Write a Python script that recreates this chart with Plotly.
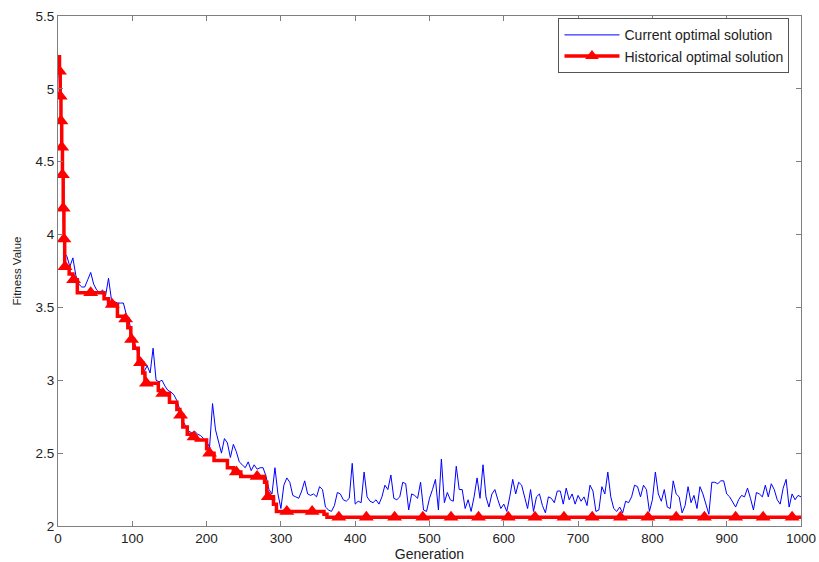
import numpy as np
import plotly.graph_objects as go

# Current optimal solution, sampled every 4 generations (0..1000)
current_step = 4
current_val = [
    5.20, 4.88, 3.88, 3.85, 3.78, 3.84, 3.72, 3.66, 3.64, 3.64,
    3.69, 3.74, 3.66, 3.62, 3.60, 3.62, 3.58, 3.70, 3.55, 3.54,
    3.53, 3.53, 3.53, 3.45, 3.40, 3.30, 3.24, 3.18, 3.10, 3.06,
    3.10, 3.05, 3.22, 3.00, 2.99, 3.00, 2.96, 2.93, 2.92, 2.90,
    2.86, 2.80, 2.72, 2.68, 2.65, 2.64, 2.65, 2.63, 2.62, 2.60,
    2.58, 2.54, 2.84, 2.66, 2.58, 2.50, 2.60, 2.57, 2.47, 2.56,
    2.51, 2.44, 2.42, 2.40, 2.44, 2.38, 2.42, 2.39, 2.40, 2.40,
    2.34, 2.25, 2.22, 2.40, 2.22, 2.12, 2.28, 2.33, 2.30, 2.21,
    2.20, 2.19, 2.24, 2.31, 2.22, 2.21, 2.22, 2.20, 2.27, 2.25,
    2.13, 2.11, 2.10, 2.14, 2.23, 2.22, 2.18, 2.17, 2.19, 2.43,
    2.15, 2.17, 2.16, 2.37, 2.20, 2.17, 2.16, 2.18, 2.15, 2.20,
    2.28, 2.25, 2.35, 2.19, 2.18, 2.20, 2.30, 2.29, 2.11, 2.22,
    2.21, 2.19, 2.30, 2.11, 2.10, 2.19, 2.25, 2.32, 2.11, 2.46,
    2.16, 2.23, 2.18, 2.17, 2.41, 2.25, 2.25, 2.12, 2.18, 2.10,
    2.20, 2.33, 2.19, 2.42, 2.20, 2.13, 2.22, 2.25, 2.18, 2.12,
    2.15, 2.10, 2.20, 2.32, 2.22, 2.30, 2.28, 2.19, 2.12, 2.25,
    2.10, 2.20, 2.22, 2.14, 2.09, 2.20, 2.19, 2.16, 2.24, 2.24,
    2.15, 2.26, 2.18, 2.22, 2.15, 2.21, 2.17, 2.20, 2.14, 2.28,
    2.24, 2.10, 2.11, 2.27, 2.22, 2.37, 2.20, 2.12, 2.10, 2.13,
    2.09, 2.17, 2.16, 2.20, 2.28, 2.27, 2.20, 2.28, 2.25, 2.10,
    2.18, 2.37, 2.22, 2.17, 2.25, 2.13, 2.12, 2.31, 2.22, 2.20,
    2.09, 2.14, 2.27, 2.16, 2.21, 2.12, 2.27, 2.22, 2.15, 2.08,
    2.30, 2.30, 2.29, 2.31, 2.31, 2.22, 2.20, 2.16, 2.13, 2.18,
    2.21, 2.20, 2.26, 2.19, 2.11, 2.23, 2.22, 2.20, 2.28, 2.20,
    2.29, 2.25, 2.18, 2.15, 2.26, 2.32, 2.13, 2.22, 2.18, 2.21,
    2.20,
]
current_gen = np.arange(len(current_val)) * current_step

# Historical optimal solution (step changes: generation, value)
hist_gen = [0, 2, 3, 4, 5, 6, 7, 8, 9, 15, 20, 26, 62, 68, 80, 90, 94, 98,
            102, 108, 114, 117, 135, 140, 150, 160, 164, 168, 174, 180, 186,
            200, 203, 210, 228, 236, 246, 278, 281, 290, 294, 358, 362, 1000]
hist_val = [5.22, 5.12, 4.95, 4.78, 4.60, 4.41, 4.18, 3.97, 3.78, 3.73, 3.69,
            3.60, 3.56, 3.52, 3.44, 3.42, 3.36, 3.28, 3.22, 3.12, 3.05, 2.98,
            2.93, 2.91, 2.85, 2.80, 2.76, 2.68, 2.63, 2.61, 2.59, 2.53, 2.50,
            2.45, 2.40, 2.37, 2.34, 2.30, 2.20, 2.15, 2.10, 2.08, 2.06, 2.06]

# generations where the triangle markers sit
marker_gen = [2, 3, 4, 5, 6, 7, 8, 9.5, 21, 44, 73, 91, 99, 111, 119, 141, 165,
              183, 204, 240, 268, 283, 308, 342, 378, 415, 453, 491, 529, 566,
              606, 642, 681, 719, 757, 794, 832, 870, 912, 949, 988]

x_ticks = [0, 100, 200, 300, 400, 500, 600, 700, 800, 900, 1000]
y_ticks = [2, 2.5, 3, 3.5, 4, 4.5, 5, 5.5]

hg = np.array(hist_gen, dtype=float)
hv = np.array(hist_val, dtype=float)
mg = np.array(marker_gen, dtype=float)
marker_val = hv[np.searchsorted(hg, mg, side="right") - 1]

RED = "#ff0000"
BLUE = "#0000ff"
FONT = "Arial, 'Liberation Sans', Helvetica, sans-serif"

fig = go.Figure()
fig.add_trace(go.Scatter(
    x=current_gen, y=current_val, mode="lines",
    line=dict(color=BLUE, width=1),
    name="Current optimal solution",
))
fig.add_trace(go.Scatter(
    x=hg, y=hv, mode="lines", line=dict(color=RED, width=3.5, shape="hv"),
    showlegend=False, hoverinfo="skip",
))
fig.add_trace(go.Scatter(
    x=mg, y=marker_val, mode="markers",
    marker=dict(symbol="triangle-up", size=13, color=RED,
                line=dict(color=RED, width=0)),
    showlegend=False,
))
# legend entry for the historical series
fig.add_trace(go.Scatter(
    x=[None], y=[None], mode="lines+markers",
    line=dict(color=RED, width=3.5),
    marker=dict(symbol="triangle-up", size=12, color=RED),
    name="Historical optimal solution",
))

axis_common = dict(
    showgrid=False, zeroline=False, showline=True, linecolor="#7f7f7f",
    linewidth=1, mirror="ticks", ticks="inside", ticklen=5, automargin=False,
    tickcolor="#7f7f7f", tickfont=dict(family=FONT, size=13.5, color="#222"),
)

fig.update_layout(
    width=819, height=562,
    margin=dict(l=58, r=18, t=16, b=36),
    paper_bgcolor="white", plot_bgcolor="white",
    font=dict(family=FONT, color="#222"),
    xaxis=dict(range=[0, 1000], tickvals=x_ticks,
               title=dict(text="Generation", font=dict(size=14), standoff=2),
               **axis_common),
    yaxis=dict(range=[2, 5.5], tickvals=y_ticks,
               title=dict(text="Fitness Value", font=dict(size=11.5), standoff=11),
               **axis_common),
    legend=dict(x=0.9845, y=0.9955, xanchor="right", yanchor="top",
                bgcolor="white", bordercolor="#555", borderwidth=1,
                font=dict(family=FONT, size=14, color="#222"),
                tracegroupgap=0, itemwidth=55),
    showlegend=True,
)

fig.write_html("out.html")
